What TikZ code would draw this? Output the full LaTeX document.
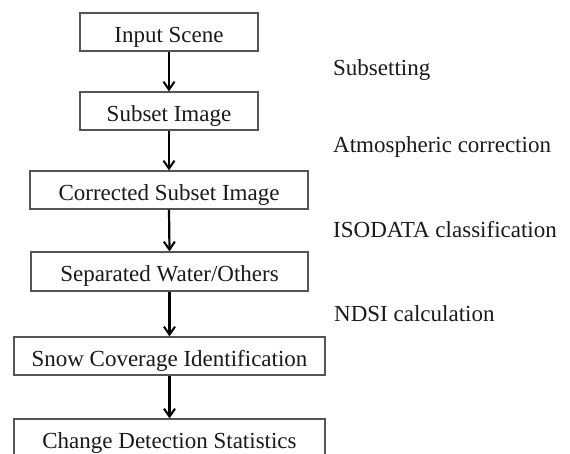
\documentclass[tikz,border=0pt]{standalone}
\usepackage{fontspec}
\setmainfont{Liberation Serif}
\usetikzlibrary{arrows.meta}
\definecolor{boxline}{HTML}{555555}
\definecolor{txt}{HTML}{1A1A1A}
\begin{document}
\begin{tikzpicture}[x=1pt,y=-1pt,
  procbox/.style={draw=boxline,line width=1.2pt,fill=white,inner sep=0pt,font=\fontsize{23}{26}\selectfont,text=txt,text height=20pt,text depth=0pt},
  flow/.style={line width=2.2pt,-{Straight Barb[length=8pt,width=11pt,line width=2pt]}},
  steplabel/.style={anchor=base west,inner sep=0pt,font=\fontsize{23}{26}\selectfont,text=txt}]
\useasboundingbox (0,0) rectangle (570,453);
\clip (0,0) rectangle (570,453);
\node[procbox,minimum width=178pt,minimum height=38pt] (b1) at (169,32) {Input Scene};
\node[procbox,minimum width=178pt,minimum height=38pt] (b2) at (169,111) {Subset Image};
\node[procbox,minimum width=278pt,minimum height=38pt] (b3) at (169,190) {Corrected Subset Image};
\node[procbox,minimum width=277pt,minimum height=39pt] (b4) at (169.5,271.5) {Separated Water/Others};
\node[procbox,minimum width=311pt,minimum height=38pt] (b5) at (169.5,356) {Snow Coverage Identification};
\node[procbox,minimum width=311pt,minimum height=38pt] (b6) at (169.5,438) {Change Detection Statistics};
\draw[flow] (b1.south) -- (b2.north);
\draw[flow] (b2.south) -- (b3.north);
\draw[flow] (b3.south) -- (b4.north);
\draw[flow] (b4.south) -- (b5.north);
\draw[flow] (b5.south) -- (b6.north);
\node[steplabel] (l1) at (333,75) {Subsetting};
\node[steplabel] (l2) at (333,152) {Atmospheric correction};
\node[steplabel] (l3) at (333,237) {ISODATA classification};
\node[steplabel] (l4) at (334,321) {NDSI calculation};
\end{tikzpicture}
\end{document}
